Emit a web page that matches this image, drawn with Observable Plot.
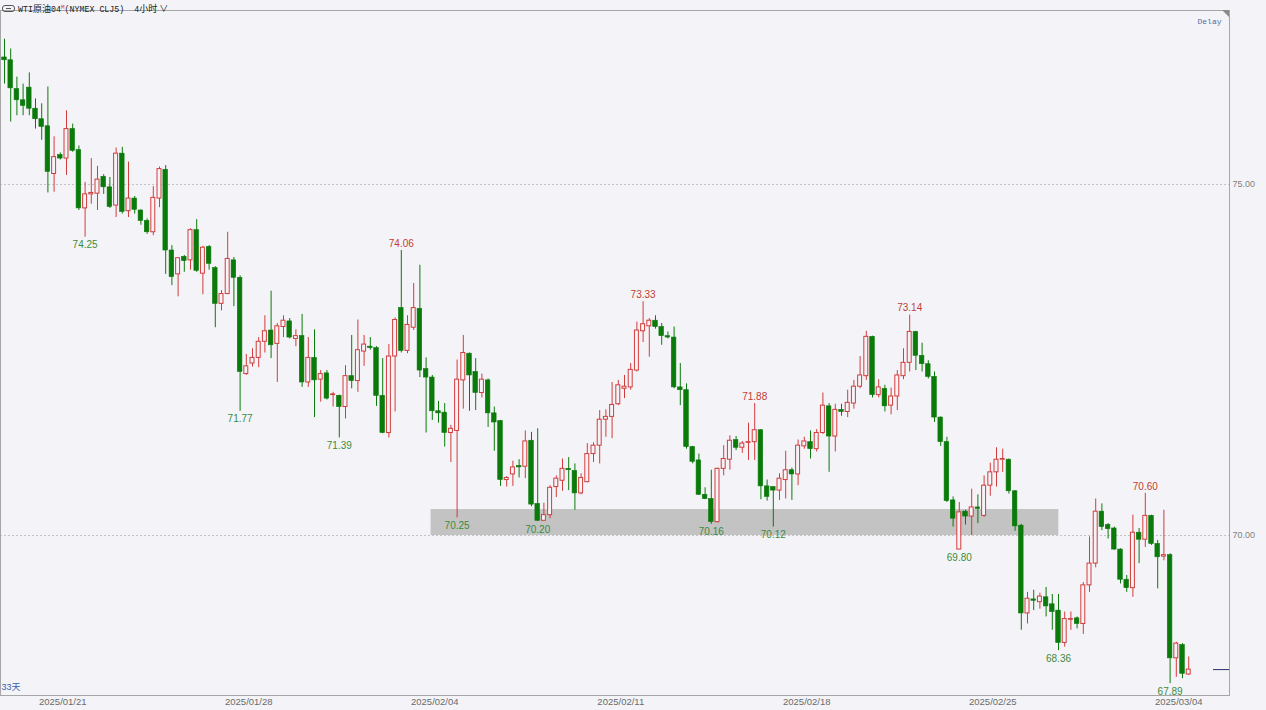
<!DOCTYPE html>
<html>
<head>
<meta charset="utf-8">
<script src="https://cdn.jsdelivr.net/npm/d3@7"></script>
<script src="https://cdn.jsdelivr.net/npm/@observablehq/plot@0.6"></script>
<style>
  html, body { margin: 0; padding: 0; background: #f4f4f8; }
  #wrap { position: relative; width: 1266px; height: 710px; overflow: hidden; }
  #hdr { position: absolute; left: 2px; top: 0; height: 13px; line-height: 13px; white-space: nowrap; color: #222; }
  #hdr .m { font-family: "Liberation Mono", "DejaVu Sans Mono", monospace; font-size: 8.3px; }
  #hdr .c { font-family: "Noto Sans CJK SC", sans-serif; font-size: 9px; }
  #hdr sup { font-family: "Liberation Mono", monospace; font-size: 6px; color: #d23c3c; vertical-align: 3px; line-height: 6px; }
  #hdr .ic { display: inline-block; width: 11px; height: 5px; border: 1px solid #555; border-radius: 3px; margin-right: 3px; vertical-align: 0; position: relative; }
  #hdr .ic::after { content: ""; position: absolute; left: 3px; top: 2px; width: 5px; height: 1px; background: #555; }
  #corner { position: absolute; left: 1222px; top: 10px; width: 0; height: 0; border-top: 7px solid #8a8a8a; border-left: 7px solid transparent; }
</style>
</head>
<body>
<div id="wrap">
  <div id="chart"></div>
  <div id="hdr"><span class="ic"></span><span class="m">WTI</span><span class="c">原油</span><span class="m">04</span><sup>M</sup><span class="m">(NYMEX CLJ5)&nbsp;&nbsp;</span><span class="m">4</span><span class="c">小时</span><span class="c" style="margin-left:2px">∨</span></div>
  <div id="corner"></div>
</div>
<script>
// WTI crude April contract (CLJ5), 4-hour candles, 20 Jan – 4 Mar 2025
const candleOpen = [
  76.81, 76.77, 76.36, 76.20, 76.38, 76.08, 75.93, 75.83, 75.15, 75.42,
  75.37, 75.79, 75.49, 74.66, 74.86, 74.87, 75.11, 74.96, 74.70, 75.44,
  74.62, 74.80, 74.63, 74.48, 74.32, 74.80, 75.21, 74.06, 73.72, 73.97,
  73.92, 74.35, 73.73, 74.11, 73.81, 73.30, 73.44, 73.92, 73.67, 72.30,
  72.45, 72.53, 72.76, 72.92, 72.73, 72.97, 73.05, 72.80, 72.84, 72.18,
  72.53, 72.22, 72.31, 72.00, 71.99, 71.83, 72.27, 72.20, 72.62, 72.69,
  72.67, 71.99, 71.46, 72.55, 73.24, 72.63, 72.96, 73.23, 72.37, 72.25,
  71.77, 71.75, 71.46, 71.49, 72.21, 72.59, 72.33, 72.03, 72.21, 71.74,
  71.63, 70.79, 70.87, 70.99, 70.98, 71.35, 70.45, 70.21, 70.29, 70.69,
  70.78, 70.95, 70.92, 70.60, 70.76, 71.16, 71.28, 71.65, 71.69, 71.87,
  72.09, 72.11, 72.35, 72.91, 72.98, 73.06, 72.97, 72.84, 72.82, 72.11,
  72.07, 71.26, 71.07, 70.58, 70.52, 70.19, 70.95, 71.08, 71.36, 71.25,
  71.32, 71.33, 71.50, 70.70, 70.69, 70.64, 70.79, 70.93, 70.87, 71.27,
  71.33, 71.23, 71.46, 71.84, 71.41, 71.79, 71.76, 71.88, 72.12, 72.27,
  72.83, 72.00, 72.09, 71.85, 71.98, 72.27, 72.46, 72.90, 72.56, 72.44,
  72.26, 71.68, 71.33, 70.50, 69.80, 70.34, 70.27, 70.40, 70.28, 70.71,
  70.90, 71.08, 71.08, 70.63, 70.14, 68.89, 69.09, 69.05, 69.12, 69.02,
  68.93, 68.47, 68.80, 68.82, 68.74, 69.29, 69.60, 70.34, 70.15, 70.10,
  69.80, 69.37, 69.25, 70.04, 69.94, 70.28, 69.88, 69.70, 69.72, 68.25,
  68.44, 68.02
];
const candleHigh = [
  77.07, 76.93, 76.53, 76.43, 76.59, 76.22, 76.15, 76.39, 75.68, 75.45,
  76.05, 75.86, 75.55, 75.03, 75.37, 75.26, 75.14, 75.10, 75.52, 75.53,
  75.32, 74.83, 74.64, 74.51, 74.97, 75.25, 75.27, 74.13, 73.96, 73.99,
  74.37, 74.50, 74.12, 74.13, 73.83, 73.49, 74.32, 73.96, 73.70, 72.58,
  72.66, 72.82, 73.13, 73.48, 73.02, 73.13, 73.09, 72.93, 73.15, 72.82,
  72.93, 72.35, 72.35, 72.04, 72.00, 72.42, 72.85, 73.07, 72.85, 72.82,
  72.69, 72.52, 72.72, 73.10, 74.06, 73.13, 73.59, 73.85, 72.53, 72.28,
  71.91, 71.88, 71.57, 72.50, 72.85, 72.60, 72.52, 72.30, 72.23, 71.83,
  71.64, 70.84, 71.06, 71.08, 71.49, 71.47, 71.52, 70.46, 70.71, 70.85,
  71.09, 71.11, 71.02, 70.88, 71.31, 71.32, 71.78, 71.79, 72.18, 72.21,
  72.28, 72.45, 73.04, 73.33, 73.09, 73.13, 73.02, 72.90, 72.97, 72.45,
  72.16, 71.27, 71.16, 70.68, 70.93, 70.96, 71.28, 71.42, 71.41, 71.34,
  71.60, 71.88, 71.51, 70.79, 70.69, 70.88, 71.20, 70.96, 71.36, 71.40,
  71.49, 71.51, 72.03, 71.88, 71.87, 71.87, 72.07, 72.21, 72.55, 72.91,
  72.84, 72.22, 72.14, 72.10, 72.35, 72.66, 73.14, 72.91, 72.74, 72.49,
  72.33, 71.69, 71.40, 70.55, 70.47, 70.36, 70.66, 70.58, 70.85, 71.03,
  71.25, 71.23, 71.09, 70.64, 70.16, 69.19, 69.22, 69.18, 69.26, 69.16,
  69.16, 68.91, 68.91, 68.84, 69.33, 69.98, 70.52, 70.45, 70.17, 70.12,
  69.81, 69.43, 70.29, 70.10, 70.60, 70.29, 69.93, 70.36, 69.74, 68.48,
  68.46, 68.27
];
const candleLow = [
  76.43, 75.89, 75.98, 75.98, 75.98, 75.79, 75.63, 74.88, 74.89, 75.35,
  75.13, 75.46, 74.63, 74.25, 74.72, 74.63, 74.86, 74.66, 74.53, 74.58,
  74.53, 74.58, 74.42, 74.29, 74.27, 74.67, 73.72, 73.56, 73.40, 73.75,
  73.78, 73.75, 73.43, 73.78, 72.96, 73.20, 73.43, 73.26, 71.77, 72.28,
  72.40, 72.39, 72.60, 72.52, 72.18, 72.82, 72.80, 72.69, 72.11, 72.11,
  71.68, 71.90, 71.93, 71.83, 71.39, 71.66, 72.09, 72.04, 72.41, 72.64,
  71.84, 71.45, 71.39, 71.76, 72.60, 72.59, 72.92, 72.25, 71.46, 71.64,
  71.60, 71.26, 71.04, 70.25, 71.80, 71.77, 71.78, 71.96, 71.54, 71.20,
  70.70, 70.69, 70.70, 70.82, 70.81, 70.41, 70.20, 70.21, 70.24, 70.54,
  70.63, 70.64, 70.36, 70.58, 70.75, 71.04, 71.02, 71.40, 71.38, 71.85,
  71.95, 72.07, 72.33, 72.75, 72.54, 72.94, 72.71, 72.80, 72.09, 71.85,
  71.23, 71.02, 70.57, 70.51, 70.16, 70.18, 70.85, 70.93, 71.21, 71.17,
  71.07, 71.07, 70.51, 70.49, 70.12, 70.50, 70.52, 70.50, 70.71, 71.23,
  71.09, 71.19, 71.44, 70.90, 71.19, 71.70, 71.68, 71.80, 72.09, 72.21,
  71.96, 71.96, 71.76, 71.72, 71.78, 72.22, 72.33, 72.35, 72.33, 72.23,
  71.61, 71.27, 70.47, 70.12, 69.80, 70.15, 70.00, 70.17, 70.26, 70.56,
  70.69, 70.90, 70.59, 70.06, 68.65, 68.74, 68.93, 68.95, 68.84, 68.65,
  68.36, 68.41, 68.65, 68.67, 68.59, 69.19, 69.54, 70.07, 69.95, 69.79,
  69.31, 69.19, 69.12, 69.60, 69.83, 69.86, 69.24, 69.64, 67.89, 67.98,
  67.96, 68.01
];
const candleClose = [
  76.77, 76.37, 76.20, 76.12, 76.08, 75.93, 75.82, 75.18, 75.39, 75.37,
  75.79, 75.48, 74.66, 74.86, 74.88, 75.07, 74.96, 74.68, 75.44, 74.61,
  74.80, 74.64, 74.48, 74.32, 74.81, 75.22, 74.06, 73.68, 73.95, 73.91,
  74.35, 73.77, 74.10, 73.87, 73.30, 73.44, 73.94, 73.67, 72.33, 72.41,
  72.53, 72.76, 72.91, 72.71, 72.98, 73.06, 72.82, 72.84, 72.18, 72.53,
  72.21, 72.30, 71.95, 72.01, 71.83, 72.27, 72.20, 72.64, 72.72, 72.67,
  71.99, 71.46, 72.55, 73.07, 72.63, 73.00, 73.24, 72.35, 72.25, 71.77,
  71.74, 71.46, 71.52, 72.22, 72.60, 72.28, 72.03, 72.22, 71.74, 71.61,
  70.79, 70.82, 70.97, 70.97, 71.34, 70.44, 70.21, 70.29, 70.68, 70.81,
  70.95, 70.93, 70.60, 70.82, 71.16, 71.28, 71.65, 71.69, 71.86, 72.14,
  72.12, 72.36, 72.92, 73.01, 73.06, 72.97, 72.84, 72.82, 72.11, 72.07,
  71.26, 71.05, 70.58, 70.52, 70.19, 70.95, 71.09, 71.35, 71.25, 71.31,
  71.33, 71.50, 70.70, 70.55, 70.64, 70.81, 70.93, 70.87, 71.28, 71.34,
  71.23, 71.46, 71.85, 71.41, 71.79, 71.76, 71.89, 72.12, 72.28, 72.83,
  72.00, 72.11, 71.84, 71.98, 72.28, 72.46, 72.90, 72.56, 72.44, 72.26,
  71.68, 71.33, 70.49, 70.24, 70.33, 70.27, 70.40, 70.38, 70.71, 70.90,
  71.08, 71.09, 70.63, 70.13, 68.89, 69.10, 69.07, 69.13, 68.99, 68.91,
  68.47, 68.81, 68.81, 68.74, 69.29, 69.60, 70.34, 70.12, 70.09, 69.80,
  69.37, 69.25, 70.04, 69.94, 70.28, 69.88, 69.69, 69.72, 68.25, 68.46,
  68.03, 68.09
];

// candles whose high / low carries a price annotation
const swingHighIdx = [64, 103, 121, 146, 184];
const swingLowIdx = [13, 38, 54, 73, 86, 114, 124, 154, 170, 188];

// session dates on the time axis (candle index of each label)
const dateTickIdx = [9.4, 39.4, 69.4, 99.4, 129.4, 159.4, 189.4];
const dateTickLabels = ["2025/01/21", "2025/01/28", "2025/02/04", "2025/02/11", "2025/02/18", "2025/02/25", "2025/03/04"];

const priceTicks = [70, 75];

// shaded support zone between the early-February and late-February lows
const supportZone = [{ start: 68.8, end: 170.05, low: 70.0, high: 70.37 }];

const BG = "#f4f4f8";
const UP = "#d23c3c";
const DOWN = "#0a7a0a";

const candles = candleOpen.map((o, i) => ({
  i,
  open: o,
  high: candleHigh[i],
  low: candleLow[i],
  close: candleClose[i],
  up: candleClose[i] >= o
}));
const upCandles = candles.filter(d => d.up);
const downCandles = candles.filter(d => !d.up);
const swingHighs = swingHighIdx.map(i => candles[i]);
const swingLows = swingLowIdx.map(i => candles[i]);
const lastPrice = [candles[candles.length - 1]];
const tickLabel = new Map(dateTickIdx.map((t, k) => [t, dateTickLabels[k]]));

const chart = Plot.plot({
  width: 1266,
  height: 710,
  marginTop: 10,
  marginRight: 37,
  marginBottom: 15,
  marginLeft: 0,
  style: { background: BG, fontFamily: "'Liberation Sans', Arial, 'Noto Sans CJK SC', sans-serif" },
  x: { domain: [-0.645, 197.58], axis: null },
  y: { domain: [67.721, 77.479], axis: null },
  marks: [
    Plot.rect(supportZone, { x1: "start", x2: "end", y1: "low", y2: "high", fill: "#c3c3c3" }),
    Plot.gridY(priceTicks, { stroke: "#c4c4c4", strokeOpacity: 1, strokeDasharray: "2,2" }),
    Plot.ruleX(candles, { x: "i", y1: "low", y2: "high", stroke: d => (d.up ? UP : DOWN), strokeWidth: 1 }),
    Plot.rect(downCandles, {
      x1: d => d.i - 0.37, x2: d => d.i + 0.37, y1: "open", y2: "close",
      fill: DOWN, stroke: DOWN, strokeWidth: 0.6
    }),
    Plot.rect(upCandles, {
      x1: d => d.i - 0.32, x2: d => d.i + 0.32, y1: "open", y2: "close",
      fill: BG, stroke: UP, strokeWidth: 1
    }),
    Plot.text(swingHighs, { x: "i", y: "high", text: d => d.high.toFixed(2), dy: -7, fill: "#c23b35", fontSize: 10 }),
    Plot.text(swingLows, { x: "i", y: "low", text: d => d.low.toFixed(2), dy: 8, fill: "#3c8a3c", fontSize: 10 }),
    Plot.ruleY(lastPrice, { y: "close", x1: 195, x2: 197.58, stroke: "#2e2e6e", strokeWidth: 1 }),
    Plot.axisX(dateTickIdx, { tickSize: 0, tickPadding: 3, tickFormat: d => tickLabel.get(d), fontSize: 9.5, color: "#6a6a6a" }),
    Plot.axisY(priceTicks, { anchor: "right", tickSize: 0, tickPadding: 3, tickFormat: d => d.toFixed(2), fontSize: 9, color: "#808080" }),
    Plot.frame({ stroke: "#a6a6a6" }),
    Plot.text(["33天"], { text: d => d, frameAnchor: "bottom-left", dx: 1, dy: -6, textAnchor: "start", fill: "#3a5dae", fontSize: 9 }),
    Plot.text(["Delay"], { text: d => d, frameAnchor: "top-right", dx: -8, dy: 8, textAnchor: "end", fill: "#4a6fa5", fontFamily: "'Liberation Mono', monospace", fontSize: 8 })
  ]
});
document.getElementById("chart").appendChild(chart);
</script>
</body>
</html>
